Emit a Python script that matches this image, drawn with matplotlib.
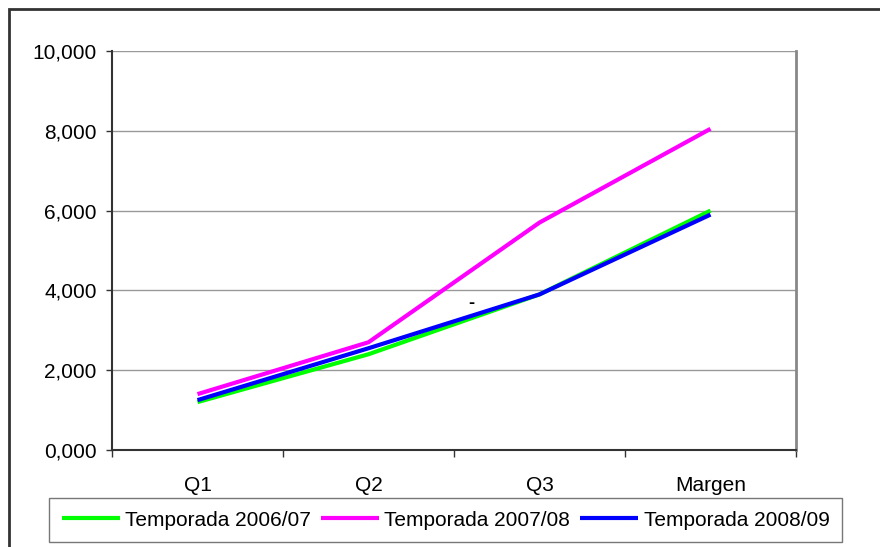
import matplotlib.pyplot as plt
from matplotlib.patches import Rectangle
from matplotlib.ticker import FuncFormatter, FixedLocator

plt.rcParams['font.family'] = ['Liberation Sans', 'DejaVu Sans']

categorias = ['Q1', 'Q2', 'Q3', 'Margen']
t_2006 = [1.2, 2.4, 3.9, 6.0]
t_2007 = [1.4, 2.7, 5.7, 8.05]
t_2008 = [1.25, 2.55, 3.9, 5.9]
series = [('Temporada 2006/07', t_2006, '#00ff00'),
          ('Temporada 2007/08', t_2007, '#ff00ff'),
          ('Temporada 2008/09', t_2008, '#0000ff')]

fs = 15

fig = plt.figure(figsize=(8.8, 5.47), dpi=100)
ax = fig.add_axes([112 / 880, 1 - 450 / 547, (796 - 112) / 880, (450 - 51) / 547])

x = list(range(len(categorias)))
for nombre, vals, color in series:
    ax.plot(x, vals, color=color, lw=3, label=nombre, solid_capstyle='butt')

ax.set_xlim(-0.5, len(categorias) - 0.5)
ax.set_ylim(0, 10)
ax.set_yticks([0, 2, 4, 6, 8, 10])
ax.yaxis.set_major_formatter(FuncFormatter(lambda v, p: f'{v:.3f}'.replace('.', ',')))
ax.grid(axis='y', color='#999999', lw=1)
ax.set_axisbelow(True)

ax.set_xticks(x)
ax.set_xticklabels(categorias)
ax.xaxis.set_minor_locator(FixedLocator([i - 0.5 for i in range(len(categorias) + 1)]))
ax.tick_params(axis='x', which='major', length=0, pad=19, labelsize=fs)
ax.tick_params(axis='x', which='minor', length=5, width=1, color='#333333')
ax.tick_params(axis='y', length=4, width=1, color='#333333', pad=7, labelsize=fs)

for s in ['left', 'bottom']:
    ax.spines[s].set_color('#333333')
    ax.spines[s].set_linewidth(1.5)
ax.spines['top'].set_visible(False)
ax.spines['right'].set_color('#888888')
ax.spines['right'].set_linewidth(2)

# pequeña marca suelta del original
ax.text(1.6, 3.68, '-', fontsize=13, fontweight='bold', ha='center', va='center')

leg = fig.legend(loc='lower left', bbox_to_anchor=(49 / 880, 1 - 542 / 547, (842 - 49) / 880, 42 / 547),
                 ncol=3, mode='expand', fontsize=fs, handlelength=2.8, handletextpad=0.25,
                 columnspacing=0.5, borderaxespad=0, borderpad=0.6, fancybox=False)
leg.get_frame().set_edgecolor('#555555')
leg.get_frame().set_linewidth(1)

fig.patches.append(Rectangle((9 / 880, -0.1), 1.1, 1 - 9 / 547 + 0.1, transform=fig.transFigure,
                             fill=False, edgecolor='#333333', lw=2))

fig.savefig('out.png', dpi=100)
